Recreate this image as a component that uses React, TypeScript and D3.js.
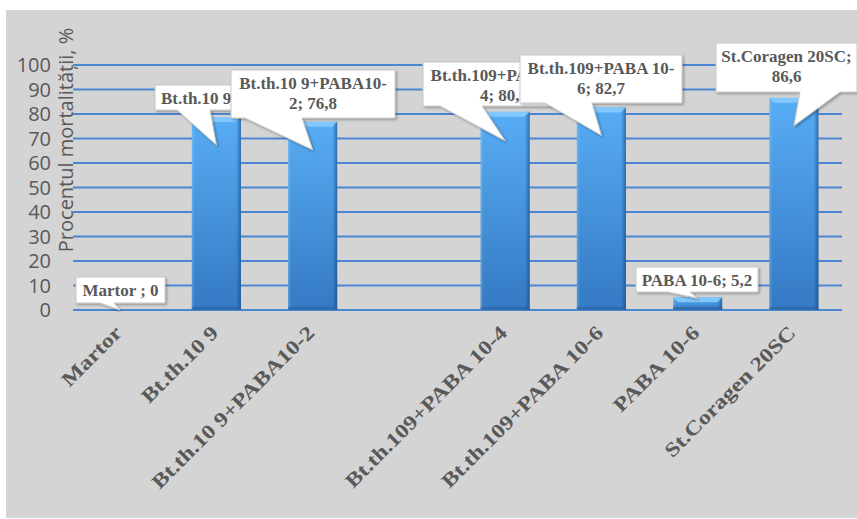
import React from "react";
import * as d3 from "d3";

// categories (index 3 is an empty slot in the original chart)
const categories = [
  "Martor",
  "Bt.th.10 9",
  "Bt.th.10 9+PABA10-2",
  "",
  "Bt.th.109+PABA 10-4",
  "Bt.th.109+PABA 10-6",
  "PABA 10-6",
  "St.Coragen 20SC",
];
const labelNames = [
  "Martor ",
  "Bt.th.10 9",
  "Bt.th.10 9+PABA10-2",
  "",
  "Bt.th.109+PABA 10-4",
  "Bt.th.109+PABA 10-6",
  "PABA 10-6",
  "St.Coragen 20SC",
];
const mortality: (number | null)[] = [0, 78.8, 76.8, null, 80.9, 82.7, 5.2, 86.6];
const yTicks = [0, 10, 20, 30, 40, 50, 60, 70, 80, 90, 100];
const yTitle = "Procentul mortalității, %";

// callout boxes: [x, y, w, h], pointer base [x0, x1], tip offset into bar, line break index
const callouts = [
  { box: [76, 277, 89, 26], base: [100, 114], dy: 0, brk: 0 },
  { box: [155, 85, 122, 25], base: [177, 210], dy: 28, brk: 0 },
  { box: [231, 70, 164, 48], base: [245, 302], dy: 28, brk: 18 },
  null,
  { box: [423, 62, 162, 44], base: [440, 482], dy: 29, brk: 18 },
  { box: [520, 55, 162, 48], base: [545, 592], dy: 28, brk: 18 },
  { box: [636, 267, 122, 25], base: [668, 690], dy: 1, brk: 0 },
  { box: [716, 43, 141, 49], base: [800, 840], dy: 28, brk: 17 },
];

const W = 857;
const H = 519;
const left = 72;
const right = 842;
const top = 65;
const bottom = 310;

const fmt = (v: number) => String(v).replace(".", ",");

export default function App() {
  const x = d3
    .scaleBand<number>()
    .domain(categories.map((_, i) => i))
    .range([left, right])
    .paddingInner(0.49)
    .paddingOuter(0.245);
  const y = d3.scaleLinear().domain([0, 100]).range([bottom, top]);
  const bw = x.bandwidth();
  const grey = "#595959";

  return (
    <svg
      width={W}
      height={H}
      style={{ position: "absolute", left: 0, top: 0 }}
    >
      <defs>
        <linearGradient id="barV" x1="0" y1="0" x2="0" y2="1">
          <stop offset="0" stopColor="#58adf4" />
          <stop offset="1" stopColor="#3479c3" />
        </linearGradient>
        <linearGradient id="barH" x1="0" y1="0" x2="1" y2="0">
          <stop offset="0" stopColor="#9fd6ff" stopOpacity="0.35" />
          <stop offset="0.06" stopColor="#9fd6ff" stopOpacity="0" />
          <stop offset="0.9" stopColor="#1d4f8a" stopOpacity="0" />
          <stop offset="1" stopColor="#163f70" stopOpacity="0.6" />
        </linearGradient>
        <filter id="shadow" x="-10%" y="-10%" width="130%" height="140%">
          <feDropShadow dx="1.5" dy="1.5" stdDeviation="1.2" floodColor="#000" floodOpacity="0.3" />
        </filter>
      </defs>
      <rect x={0} y={0} width={W} height={H} fill="#ffffff" />
      <rect x={6} y={10} width={851} height={508} fill="#d4d4d4" />

      {/* y axis title */}
      <text
        transform={`translate(73,${(25 + 255) / 2}) rotate(-90)`}
        textAnchor="middle"
        fontFamily="'Open Sans', sans-serif"
        fontSize={20}
        fill={grey}
      >
        {yTitle}
      </text>

      {/* gridlines */}
      {yTicks.map((t) => (
        <line
          key={t}
          x1={left + 1}
          x2={right}
          y1={y(t)}
          y2={y(t)}
          stroke="#4a86d2"
          strokeWidth={2}
        />
      ))}
      {yTicks.map((t) => (
        <text
          key={"l" + t}
          x={51}
          y={y(t)}
          dy="0.36em"
          textAnchor="end"
          fontFamily="'Open Sans', sans-serif"
          fontSize={20}
          fill={grey}
        >
          {t}
        </text>
      ))}

      {/* bars */}
      {mortality.map((v, i) => {
        if (v == null || v <= 0) return null;
        const bx = x(i)!;
        const by = y(v);
        const bh = bottom - by;
        return (
          <g key={"b" + i}>
            <rect x={bx} y={by} width={bw} height={bh} fill="url(#barV)" />
            <rect x={bx} y={by} width={bw} height={bh} fill="url(#barH)" />
            <path
              d={`M${bx},${by} H${bx + bw} L${bx + bw - 5},${by + 5} H${bx + 5} Z`}
              fill="#8fd0ff"
              opacity={0.8}
            />
            <rect x={bx} y={bottom - 3} width={bw} height={3} fill="#2b639f" opacity={0.6} />
          </g>
        );
      })}

      {/* x tick labels */}
      {categories.map((c, i) =>
        c ? (
          <text
            key={"x" + i}
            transform={`translate(${x(i)! + bw / 2 + 3},${334}) rotate(-45) scale(1.2,1)`}
            textAnchor="end"
            fontFamily="'Liberation Serif', 'Times New Roman', serif"
            fontWeight="bold"
            fontSize={20}
            fill={grey}
          >
            {c}
          </text>
        ) : null
      )}

      {/* callouts */}
      {callouts.map((co, i) => {
        const v = mortality[i];
        if (!co || v == null) return null;
        const [bx, by, bwid, bh] = co.box;
        const tipX = x(i)! + bw / 2;
        const tipY = y(v) + co.dy;
        const label = `${labelNames[i]}; ${fmt(v)}`;
        const lines = co.brk ? [label.slice(0, co.brk), label.slice(co.brk)] : [label];
        const d = `M${bx},${by} H${bx + bwid} V${by + bh} H${co.base[1]} L${tipX},${tipY} L${co.base[0]},${by + bh} H${bx} Z`;
        return (
          <g key={"c" + i}>
            <path d={d} fill="#ffffff" stroke="#c8c8c8" strokeWidth={1} filter="url(#shadow)" />
            {lines.map((ln, j) => (
              <text
                key={j}
                x={bx + bwid / 2}
                y={lines.length === 1 ? by + bh / 2 + 6 : by + 19 + j * 20}
                textAnchor="middle"
                fontFamily="'Liberation Serif', 'Times New Roman', serif"
                fontWeight="bold"
                fontSize={17}
                fill={grey}
              >
                {ln.trim()}
              </text>
            ))}
          </g>
        );
      })}
    </svg>
  );
}
